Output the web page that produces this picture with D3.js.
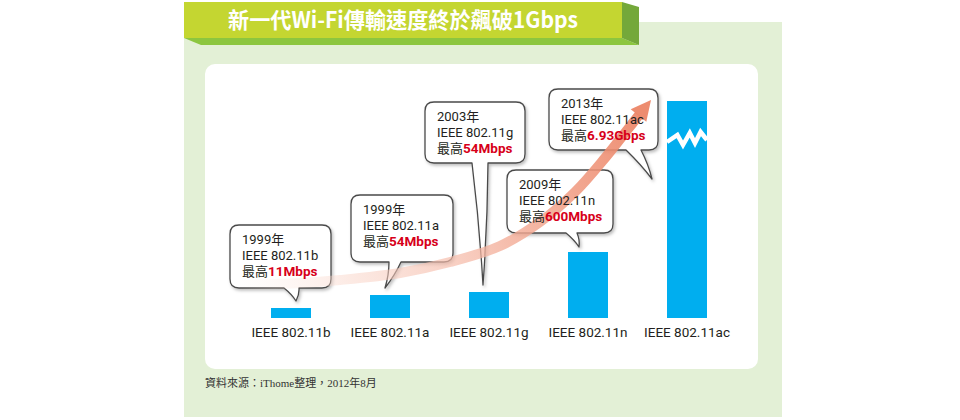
<!DOCTYPE html>
<html><head><meta charset="utf-8">
<script src="https://cdn.jsdelivr.net/npm/d3@7"></script>
<style>body{margin:0;background:#fff} svg{display:block}</style>
</head><body><svg id="c" width="960" height="420"></svg>
<script>
// ---- data ----
const title = "新一代Wi-Fi傳輸速度終於飆破1Gbps";
const categories = ["IEEE 802.11b", "IEEE 802.11a", "IEEE 802.11g", "IEEE 802.11n", "IEEE 802.11ac"];
const years = ["1999年", "1999年", "2003年", "2009年", "2013年"];
const maxSpeeds = ["11Mbps", "54Mbps", "54Mbps", "600Mbps", "6.93Gbps"];
// drawn bar height (the original chart is schematic, not to scale; last bar is broken)
const barHeights = [10, 23, 26, 66, 217];
const speedPrefix = "最高";
const source = "資料來源：iThome整理，2012年8月";

// ---- layout ----
const svg = d3.select("#c");
const FONT = "Roboto, 'Noto Sans CJK TC', sans-serif";
const CJK = "'Noto Sans CJK TC', sans-serif";

const defs = svg.append("defs");
const sh = defs.append("filter").attr("id", "sh").attr("x", "-20%").attr("y", "-20%").attr("width", "140%").attr("height", "150%");
sh.append("feDropShadow").attr("dx", 1.5).attr("dy", 2).attr("stdDeviation", 1.8).attr("flood-color", "#000").attr("flood-opacity", 0.25);

const grad = defs.append("linearGradient").attr("id", "ag").attr("gradientUnits", "userSpaceOnUse")
  .attr("x1", 235).attr("y1", 285).attr("x2", 645).attr("y2", 110);
grad.append("stop").attr("offset", 0).attr("stop-color", "#fbe0d6").attr("stop-opacity", 0);
grad.append("stop").attr("offset", 0.25).attr("stop-color", "#f9d3c6").attr("stop-opacity", 0.5);
grad.append("stop").attr("offset", 0.6).attr("stop-color", "#f3ad98").attr("stop-opacity", 0.8);
grad.append("stop").attr("offset", 1).attr("stop-color", "#ec8263").attr("stop-opacity", 0.92);

// light green panel
svg.append("rect").attr("x", 184).attr("y", 22).attr("width", 598).attr("height", 395).attr("fill", "#e3f0d6");
// white panel
svg.append("rect").attr("x", 205).attr("y", 64).attr("width", 553).attr("height", 305).attr("rx", 10).attr("fill", "#ffffff");

// title bar (3D ribbon)
svg.append("path").attr("d", "M184,38 L622,38 L639,45 L201,45 Z").attr("fill", "#8cc63f");
svg.append("path").attr("d", "M622,2 L639,7 L639,45 L622,38 Z").attr("fill", "#74a83a");
svg.append("rect").attr("x", 184).attr("y", 2).attr("width", 438).attr("height", 36).attr("fill", "#c4d631");
svg.append("text").attr("x", 403).attr("y", 28).attr("text-anchor", "middle")
  .attr("font-family", CJK).attr("font-weight", 700).attr("font-size", 22).attr("fill", "#fff")
  .attr("textLength", 350).attr("lengthAdjust", "spacingAndGlyphs").text(title);

// scales
const x = d3.scaleBand().domain(categories).range([271, 707]).paddingInner(0.596).paddingOuter(0);
const y = d3.scaleLinear().domain([0, 217]).range([318, 101]);
const bw = x.bandwidth();

// bars
svg.append("g").selectAll("rect").data(categories).join("rect")
  .attr("x", d => x(d)).attr("y", (d, i) => y(barHeights[i]))
  .attr("width", bw).attr("height", (d, i) => y(0) - y(barHeights[i]))
  .attr("fill", "#00aeef");

// break mark on last bar
const lastX = x(categories[4]);
const zz = [[0, 41], [0.26, 34], [0.4, 44], [0.57, 32], [0.7, 42], [0.84, 31], [1, 39]];
svg.append("polyline")
  .attr("points", zz.map(p => [lastX + p[0] * bw, y(217) + p[1]].join(",")).join(" "))
  .attr("fill", "none").attr("stroke", "#fff").attr("stroke-width", 4.5).attr("stroke-linejoin", "miter");

// category axis
const ax = svg.append("g").attr("transform", `translate(0,${y(0)})`)
  .call(d3.axisBottom(x).tickSize(0).tickPadding(9));
ax.select(".domain").remove();
ax.selectAll("text").attr("font-family", FONT).attr("font-size", 13.5).attr("fill", "#231f20");

// callout bubbles (annotation layout)
const bubbles = [
  { x: 230, y: 225, w: 101, h: 63, t0: 284, t1: 299, dx: 5, dy: 7 },
  { x: 351, y: 195, w: 102, h: 67, t0: 389, t1: 401, dx: -5, dy: 7 },
  { x: 425, y: 102, w: 100, h: 61, t0: 472, t1: 488, dx: -6, dy: 7 },
  { x: 507, y: 170, w: 106, h: 63, t0: 566, t1: 577, dx: -9, dy: 5 },
  { x: 549, y: 89, w: 109, h: 61, t0: 626, t1: 641, dx: -35, dy: -78 }
];
function bubblePath(b, tip) {
  const r = 9, bt = b.y + b.h, R = b.x + b.w;
  const m1x = (b.t1 + tip[0]) / 2 + 2, m1y = (bt + tip[1]) / 2;
  const m0x = (b.t0 + tip[0]) / 2 + 2, m0y = (bt + tip[1]) / 2;
  return `M${b.x + r},${b.y} H${R - r} Q${R},${b.y} ${R},${b.y + r} V${bt - r} Q${R},${bt} ${R - r},${bt} ` +
    `H${b.t1} Q${m1x},${m1y} ${tip[0]},${tip[1]} Q${m0x},${m0y} ${b.t0},${bt} H${b.x + r} Q${b.x},${bt} ${b.x},${bt - r} V${b.y + r} Q${b.x},${b.y} ${b.x + r},${b.y} Z`;
}
const tips = bubbles.map((b, i) => [x(categories[i]) + bw / 2 + b.dx, y(barHeights[i]) - b.dy]);

svg.append("g").selectAll("path").data(bubbles).join("path")
  .attr("d", (b, i) => bubblePath(b, tips[i]))
  .attr("fill", "#fff").attr("stroke", "#4a4a4a").attr("stroke-width", 1.3)
  .attr("stroke-linejoin", "round").attr("filter", "url(#sh)");

// growth arrow
const arrowPts = [[235, 285], [300, 283], [340, 280], [400, 273], [450, 262], [500, 246], [540, 222], [575, 192], [605, 158], [628, 129], [639, 115]];
svg.append("path").attr("d", d3.line().curve(d3.curveCatmullRom)(arrowPts))
  .attr("fill", "none").attr("stroke", "url(#ag)").attr("stroke-width", 10);
(function () {
  const tip = [651, 100], base = arrowPts[arrowPts.length - 1];
  const dx = tip[0] - base[0], dy = tip[1] - base[1], L = Math.hypot(dx, dy);
  const ux = dx / L, uy = dy / L, px = -uy, py = ux, hw = 10;
  const bx = tip[0] - ux * 20, by = tip[1] - uy * 20;
  svg.append("path").attr("d", `M${tip[0]},${tip[1]} L${bx + px * hw},${by + py * hw} L${bx - px * hw},${by - py * hw} Z`)
    .attr("fill", "#ec8263").attr("fill-opacity", 0.92);
})();

// bubble texts (one text element per bubble, three lines)
const tg = svg.append("g").attr("font-family", FONT).attr("font-size", 13).attr("fill", "#231f20");
bubbles.forEach((b, i) => {
  const tx = b.x + 12, ty = b.y + 19;
  const t = tg.append("text").attr("x", tx).attr("y", ty);
  t.append("tspan").attr("x", tx).attr("y", ty).text(years[i]);
  t.append("tspan").attr("x", tx).attr("y", ty + 16).text(categories[i]);
  t.append("tspan").attr("x", tx).attr("y", ty + 32).text(speedPrefix);
  t.append("tspan").attr("font-weight", 700).attr("font-size", 13.5).attr("fill", "#d7001a").text(maxSpeeds[i]);
});

// source note
svg.append("text").attr("x", 205).attr("y", 387)
  .attr("font-family", "'Liberation Serif', 'Noto Sans CJK TC', serif").attr("font-size", 11).attr("fill", "#333")
  .text(source);
</script>
</body></html>
